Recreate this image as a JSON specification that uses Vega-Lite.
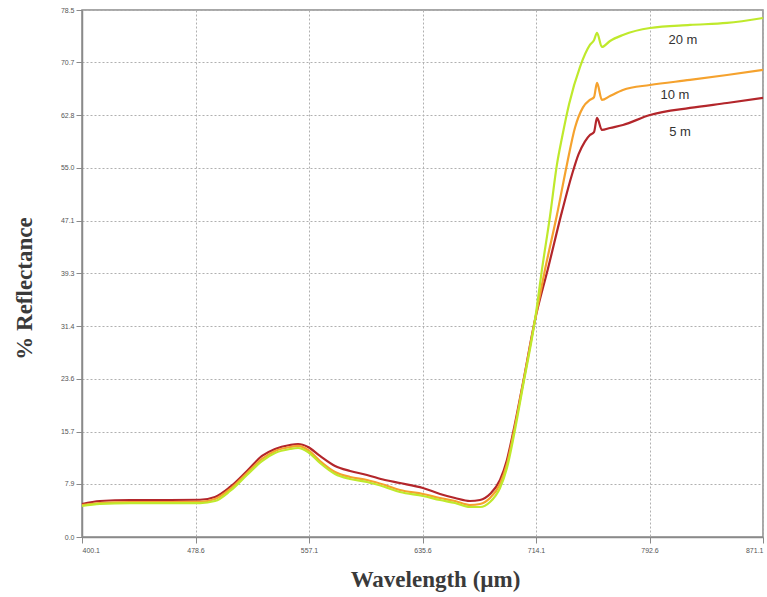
{
  "$schema": "https://vega.github.io/schema/vega-lite/v6.json",
  "width": 681,
  "height": 527,
  "autosize": {"type": "none"},
  "padding": {"left": 82, "top": 10, "right": 4, "bottom": 60},
  "background": "white",
  "config": {
    "view": {"stroke": "#8a8a8a", "strokeWidth": 1.5},
    "axis": {
      "domainColor": "#8a8a8a",
      "domainWidth": 1.5,
      "tickColor": "#8a8a8a",
      "tickSize": 6,
      "labelColor": "#555",
      "labelFontSize": 7,
      "labelFont": "Liberation Sans",
      "gridColor": "#b0b0b0",
      "gridDash": [2, 2],
      "gridWidth": 1,
      "titleFont": "Liberation Serif",
      "titleFontSize": 23,
      "titleFontWeight": "bold",
      "titleColor": "#3a3a3a"
    }
  },
  "datasets": {
    "spectra": [
      {"w": 400.1, "v": 4.92, "s": "5 m"}, {"w": 412.5, "v": 5.36, "s": "5 m"}, {"w": 433.3, "v": 5.51, "s": "5 m"}, {"w": 461.0, "v": 5.51, "s": "5 m"}, {"w": 481.7, "v": 5.55, "s": "5 m"}, {"w": 492.1, "v": 5.96, "s": "5 m"}, {"w": 502.5, "v": 7.45, "s": "5 m"}, {"w": 514.2, "v": 9.83, "s": "5 m"}, {"w": 524.6, "v": 12.07, "s": "5 m"}, {"w": 533.6, "v": 13.11, "s": "5 m"}, {"w": 543.9, "v": 13.70, "s": "5 m"}, {"w": 549.5, "v": 13.85, "s": "5 m"}, {"w": 556.4, "v": 13.41, "s": "5 m"}, {"w": 564.7, "v": 12.07, "s": "5 m"}, {"w": 575.1, "v": 10.58, "s": "5 m"}, {"w": 585.5, "v": 9.83, "s": "5 m"}, {"w": 597.2, "v": 9.24, "s": "5 m"}, {"w": 609.6, "v": 8.49, "s": "5 m"}, {"w": 620.0, "v": 8.04, "s": "5 m"}, {"w": 635.9, "v": 7.30, "s": "5 m"}, {"w": 647.7, "v": 6.41, "s": "5 m"}, {"w": 658.1, "v": 5.81, "s": "5 m"}, {"w": 668.4, "v": 5.36, "s": "5 m"}, {"w": 675.4, "v": 5.51, "s": "5 m"}, {"w": 682.3, "v": 6.41, "s": "5 m"}, {"w": 689.2, "v": 8.49, "s": "5 m"}, {"w": 694.0, "v": 11.47, "s": "5 m"}, {"w": 698.2, "v": 15.49, "s": "5 m"}, {"w": 705.1, "v": 22.94, "s": "5 m"}, {"w": 713.4, "v": 32.33, "s": "5 m"}, {"w": 722.4, "v": 40.0, "s": "5 m"}, {"w": 732.1, "v": 48.5, "s": "5 m"}, {"w": 739.0, "v": 54.0, "s": "5 m"}, {"w": 743.5, "v": 57.0, "s": "5 m"}, {"w": 747.9, "v": 58.9, "s": "5 m"}, {"w": 751.4, "v": 59.88, "s": "5 m"}, {"w": 754.2, "v": 60.3, "s": "5 m"}, {"w": 756.3, "v": 62.42, "s": "5 m"}, {"w": 759.7, "v": 60.63, "s": "5 m"}, {"w": 765.3, "v": 60.93, "s": "5 m"}, {"w": 774.2, "v": 61.37, "s": "5 m"}, {"w": 792.9, "v": 62.86, "s": "5 m"}, {"w": 820.6, "v": 63.91, "s": "5 m"}, {"w": 846.2, "v": 64.65, "s": "5 m"}, {"w": 871.1, "v": 65.40, "s": "5 m"},

      {"w": 400.1, "v": 4.77, "s": "10 m"}, {"w": 412.5, "v": 5.06, "s": "10 m"}, {"w": 433.3, "v": 5.21, "s": "10 m"}, {"w": 461.0, "v": 5.21, "s": "10 m"}, {"w": 481.7, "v": 5.25, "s": "10 m"}, {"w": 492.1, "v": 5.66, "s": "10 m"}, {"w": 502.5, "v": 7.15, "s": "10 m"}, {"w": 514.2, "v": 9.53, "s": "10 m"}, {"w": 524.6, "v": 11.62, "s": "10 m"}, {"w": 533.6, "v": 12.81, "s": "10 m"}, {"w": 543.9, "v": 13.41, "s": "10 m"}, {"w": 549.5, "v": 13.56, "s": "10 m"}, {"w": 556.4, "v": 12.96, "s": "10 m"}, {"w": 564.7, "v": 11.32, "s": "10 m"}, {"w": 575.1, "v": 9.68, "s": "10 m"}, {"w": 585.5, "v": 8.94, "s": "10 m"}, {"w": 597.2, "v": 8.49, "s": "10 m"}, {"w": 609.6, "v": 7.75, "s": "10 m"}, {"w": 620.0, "v": 7.00, "s": "10 m"}, {"w": 635.9, "v": 6.41, "s": "10 m"}, {"w": 647.7, "v": 5.81, "s": "10 m"}, {"w": 658.1, "v": 5.36, "s": "10 m"}, {"w": 668.4, "v": 4.77, "s": "10 m"}, {"w": 675.4, "v": 4.92, "s": "10 m"}, {"w": 682.3, "v": 5.81, "s": "10 m"}, {"w": 689.2, "v": 7.90, "s": "10 m"}, {"w": 694.0, "v": 10.87, "s": "10 m"}, {"w": 698.2, "v": 15.05, "s": "10 m"}, {"w": 705.1, "v": 22.79, "s": "10 m"}, {"w": 713.4, "v": 32.33, "s": "10 m"}, {"w": 720.3, "v": 39.8, "s": "10 m"}, {"w": 728.6, "v": 48.0, "s": "10 m"}, {"w": 735.5, "v": 55.5, "s": "10 m"}, {"w": 741.1, "v": 61.0, "s": "10 m"}, {"w": 746.6, "v": 64.0, "s": "10 m"}, {"w": 751.4, "v": 65.10, "s": "10 m"}, {"w": 754.2, "v": 65.5, "s": "10 m"}, {"w": 756.3, "v": 67.63, "s": "10 m"}, {"w": 759.7, "v": 65.10, "s": "10 m"}, {"w": 765.3, "v": 65.69, "s": "10 m"}, {"w": 774.2, "v": 66.59, "s": "10 m"}, {"w": 792.9, "v": 67.33, "s": "10 m"}, {"w": 820.6, "v": 68.08, "s": "10 m"}, {"w": 846.2, "v": 68.82, "s": "10 m"}, {"w": 871.1, "v": 69.57, "s": "10 m"},

      {"w": 400.1, "v": 4.62, "s": "20 m"}, {"w": 412.5, "v": 4.92, "s": "20 m"}, {"w": 433.3, "v": 5.06, "s": "20 m"}, {"w": 461.0, "v": 5.06, "s": "20 m"}, {"w": 481.7, "v": 5.06, "s": "20 m"}, {"w": 492.1, "v": 5.36, "s": "20 m"}, {"w": 502.5, "v": 6.85, "s": "20 m"}, {"w": 514.2, "v": 9.24, "s": "20 m"}, {"w": 524.6, "v": 11.32, "s": "20 m"}, {"w": 533.6, "v": 12.51, "s": "20 m"}, {"w": 543.9, "v": 13.11, "s": "20 m"}, {"w": 549.5, "v": 13.26, "s": "20 m"}, {"w": 556.4, "v": 12.66, "s": "20 m"}, {"w": 564.7, "v": 11.02, "s": "20 m"}, {"w": 575.1, "v": 9.38, "s": "20 m"}, {"w": 585.5, "v": 8.64, "s": "20 m"}, {"w": 597.2, "v": 8.19, "s": "20 m"}, {"w": 609.6, "v": 7.45, "s": "20 m"}, {"w": 620.0, "v": 6.70, "s": "20 m"}, {"w": 635.9, "v": 6.11, "s": "20 m"}, {"w": 647.7, "v": 5.51, "s": "20 m"}, {"w": 658.1, "v": 5.06, "s": "20 m"}, {"w": 668.4, "v": 4.47, "s": "20 m"}, {"w": 675.4, "v": 4.47, "s": "20 m"}, {"w": 682.3, "v": 5.21, "s": "20 m"}, {"w": 689.2, "v": 7.30, "s": "20 m"}, {"w": 694.0, "v": 10.28, "s": "20 m"}, {"w": 698.2, "v": 14.45, "s": "20 m"}, {"w": 705.1, "v": 22.49, "s": "20 m"}, {"w": 713.4, "v": 32.33, "s": "20 m"}, {"w": 718.2, "v": 39.8, "s": "20 m"}, {"w": 723.8, "v": 47.8, "s": "20 m"}, {"w": 728.6, "v": 55.5, "s": "20 m"}, {"w": 732.1, "v": 59.5, "s": "20 m"}, {"w": 737.0, "v": 64.5, "s": "20 m"}, {"w": 744.5, "v": 70.0, "s": "20 m"}, {"w": 751.4, "v": 73.29, "s": "20 m"}, {"w": 754.2, "v": 74.0, "s": "20 m"}, {"w": 756.3, "v": 75.08, "s": "20 m"}, {"w": 759.7, "v": 72.99, "s": "20 m"}, {"w": 765.3, "v": 73.89, "s": "20 m"}, {"w": 774.2, "v": 74.78, "s": "20 m"}, {"w": 792.9, "v": 75.82, "s": "20 m"}, {"w": 820.6, "v": 76.27, "s": "20 m"}, {"w": 846.2, "v": 76.57, "s": "20 m"}, {"w": 871.1, "v": 77.31, "s": "20 m"}
    ],
    "labels": [
      {"w": 815.7, "v": 74.0, "t": "20 m"},
      {"w": 810.2, "v": 65.8, "t": "10 m"},
      {"w": 813.7, "v": 60.3, "t": "5 m"}
    ]
  },
  "layer": [
    {
      "data": {"name": "spectra"},
      "mark": {"type": "line", "strokeWidth": 2.2, "interpolate": "monotone"},
      "encoding": {
        "x": {
          "field": "w", "type": "quantitative",
          "scale": {"domain": [400.1, 871.1], "nice": false, "zero": false},
          "axis": {
            "values": [400.1, 478.6, 557.1, 635.6, 714.1, 792.6, 871.1],
            "format": ".1f",
            "title": "Wavelength (µm)",
            "titleX": 353,
            "titleY": 49,
            "titleBaseline": "alphabetic",
            "labelPadding": 3
          }
        },
        "y": {
          "field": "v", "type": "quantitative",
          "scale": {"domain": [0, 78.5], "nice": false},
          "axis": {
            "values": [0, 7.9, 15.7, 23.6, 31.4, 39.3, 47.1, 55.0, 62.8, 70.7, 78.5],
            "format": ".1f",
            "title": "% Reflectance",
            "titleX": -58,
            "titleY": 278,
            "titleBaseline": "middle",
            "labelPadding": 2
          }
        },
        "color": {
          "field": "s", "type": "nominal",
          "scale": {"domain": ["5 m", "10 m", "20 m"], "range": ["#b3262b", "#f5a22e", "#bfe92c"]},
          "legend": null
        },
        "order": {"field": "s"}
      }
    },
    {
      "data": {"name": "labels"},
      "mark": {"type": "text", "font": "Liberation Sans", "fontSize": 13, "color": "#333", "align": "center", "baseline": "middle"},
      "encoding": {
        "x": {"field": "w", "type": "quantitative"},
        "y": {"field": "v", "type": "quantitative"},
        "text": {"field": "t"}
      }
    }
  ]
}
